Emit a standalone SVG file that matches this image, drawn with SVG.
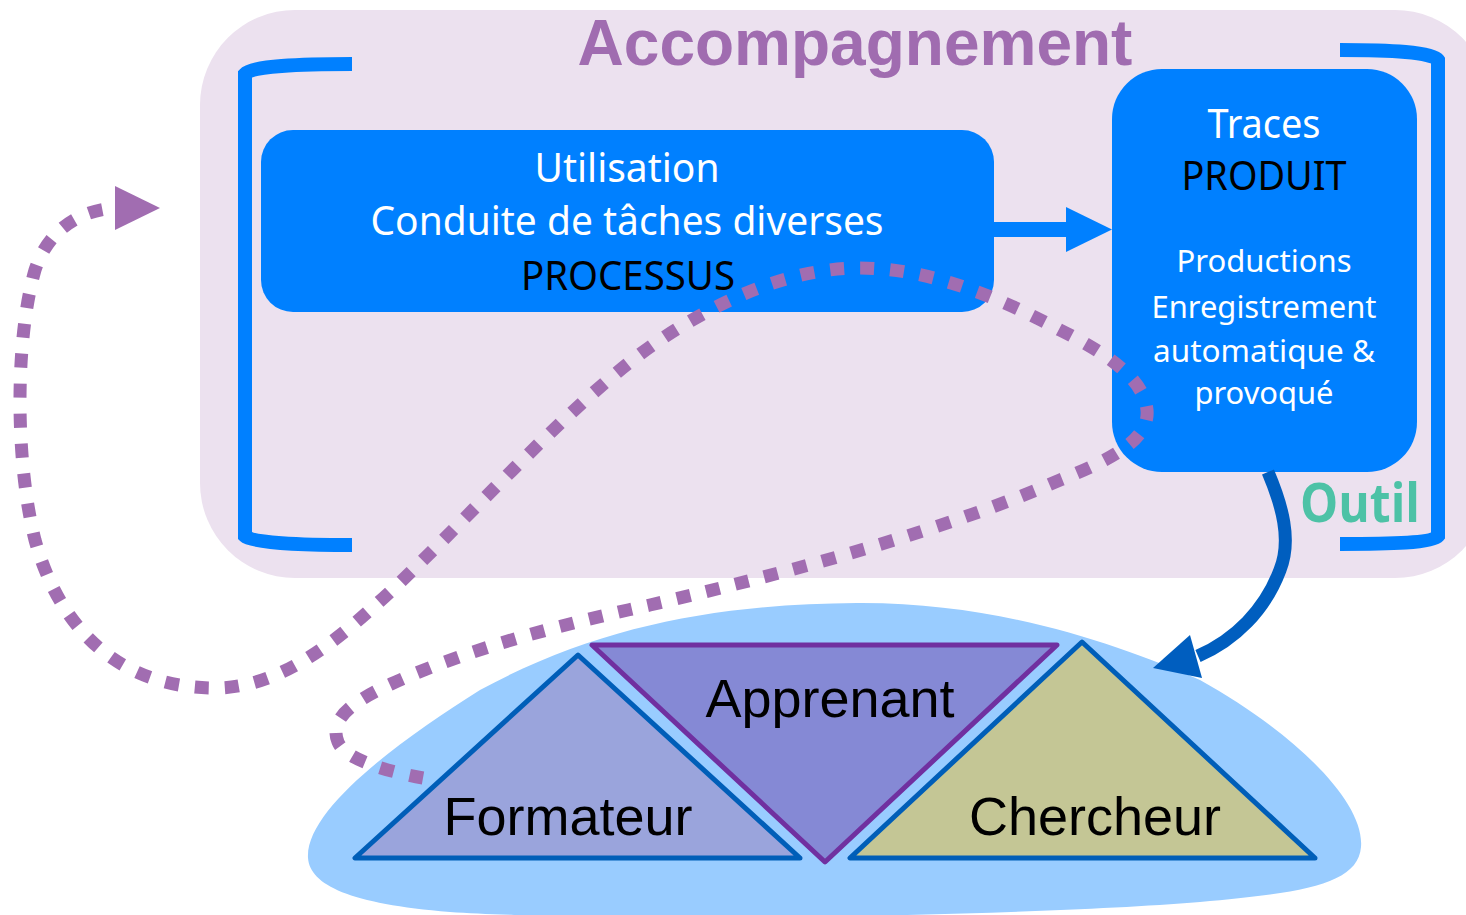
<svg xmlns="http://www.w3.org/2000/svg" width="1466" height="915" viewBox="0 0 1466 915">
<style>
.bg{fill:#ECE1EF}
.bracket{fill:none;stroke:#0080FF;stroke-width:14}
.box{fill:#0080FF}
.wt{fill:#FFFFFF;font-family:"Noto Sans","Open Sans",sans-serif;text-anchor:middle}
.bk{fill:#000000;font-family:"Noto Sans","Open Sans",sans-serif;text-anchor:middle}
.tri{stroke-width:5;stroke-linejoin:round}
.lbl{fill:#000000;font-family:"Liberation Sans",Arial,sans-serif;font-size:54px;text-anchor:middle}
.dots{fill:none;stroke:#A16DB1;stroke-width:13;stroke-dasharray:14 16}
</style>
<g id="accompagnement">
  <rect class="bg" x="200" y="10" width="1290" height="568" rx="95" ry="95"/>
  <text x="855" y="65" fill="#A06CB0" font-family="'Liberation Sans',Arial,sans-serif" font-weight="bold" font-size="64" text-anchor="middle">Accompagnement</text>
  <path class="bracket" d="M352,64 C300,64 252,66 245,74 L245,536 C252,543 300,545 352,545"/>
</g>
<g id="outil">
  <path class="bracket" d="M1340,50 C1390,50 1432,52 1438,60 L1438,536 C1432,543 1390,544 1340,544"/>
  <text x="1360" y="522" fill="#4DC2A6" font-family="'Open Sans','Noto Sans',sans-serif" font-weight="bold" font-size="53" text-anchor="middle" textLength="120" lengthAdjust="spacingAndGlyphs">Outil</text>
</g>
<g id="utilisation">
  <rect class="box" x="261" y="130" width="733" height="182" rx="32" ry="32"/>
  <text class="wt" x="627" y="182" font-size="40" textLength="185" lengthAdjust="spacingAndGlyphs">Utilisation</text>
  <text class="wt" x="627" y="235" font-size="40" textLength="513" lengthAdjust="spacingAndGlyphs">Conduite de tâches diverses</text>
  <text class="bk" x="628" y="290" font-size="40" textLength="214" lengthAdjust="spacingAndGlyphs">PROCESSUS</text>
</g>
<g id="traces">
  <rect class="box" x="1112" y="69" width="305" height="403" rx="50" ry="50"/>
  <text class="wt" x="1264" y="138" font-size="40" textLength="113" lengthAdjust="spacingAndGlyphs">Traces</text>
  <text class="bk" x="1264" y="190" font-size="40" textLength="165" lengthAdjust="spacingAndGlyphs">PRODUIT</text>
  <text class="wt" x="1264" y="272" font-size="31" textLength="175" lengthAdjust="spacingAndGlyphs">Productions</text>
  <text class="wt" x="1264" y="318" font-size="31" textLength="225" lengthAdjust="spacingAndGlyphs">Enregistrement</text>
  <text class="wt" x="1264" y="362" font-size="31" textLength="222" lengthAdjust="spacingAndGlyphs">automatique &amp;</text>
  <text class="wt" x="1264" y="404" font-size="31" textLength="139" lengthAdjust="spacingAndGlyphs">provoqué</text>
</g>
<g id="groupe">
  <path fill="#99CCFF" d="M308,858 C305,810 400,740 480,690 C600,625 720,604 857,603 C1000,602 1120,645 1200,680 C1290,730 1365,800 1361,847 C1358,885 1300,893 1200,902 C1000,918 600,922 450,912 C350,904 310,885 308,858 Z"/>
</g>
<g id="connectors">
  <path class="dots" d="M423,778 C390,772 345,760 338,742 C330,722 345,705 391,684 C470,648 560,625 650,605 C800,570 950,528 1060,480 C1110,460 1150,440 1147,410 C1144,380 1110,355 1060,330 C1000,298 930,268 860,268 C790,268 720,300 660,340 C570,400 450,540 370,610 C320,655 270,688 215,688 C120,688 60,630 35,540 C15,460 15,340 35,270 C50,225 85,210 115,208"/>
  <polygon fill="#A16DB1" points="115,186 160,208 115,230"/>
  <line x1="993" y1="229.5" x2="1068" y2="229.5" stroke="#0080FF" stroke-width="15"/>
  <polygon fill="#0080FF" points="1066,207 1112,229.5 1066,252"/>
  <path d="M1268,472 C1282,505 1292,540 1280,570 C1265,610 1235,640 1198,656" fill="none" stroke="#005EBF" stroke-width="13"/>
  <polygon fill="#005EBF" points="1190,635 1153,668 1202,678"/>
</g>
<g id="formateur">
  <polygon class="tri" fill="#9AA4DC" stroke="#005EB8" points="578,655 355,858 800,858"/>
  <text class="lbl" x="568" y="835">Formateur</text>
</g>
<g id="apprenant">
  <polygon class="tri" fill="#8589D5" stroke="#7030A0" points="592,645 1057,645 825,862"/>
  <text class="lbl" x="830" y="717">Apprenant</text>
</g>
<g id="chercheur">
  <polygon class="tri" fill="#C4C695" stroke="#005EB8" points="1082,642 850,858 1315,858"/>
  <text class="lbl" x="1095" y="835">Chercheur</text>
</g>
</svg>
